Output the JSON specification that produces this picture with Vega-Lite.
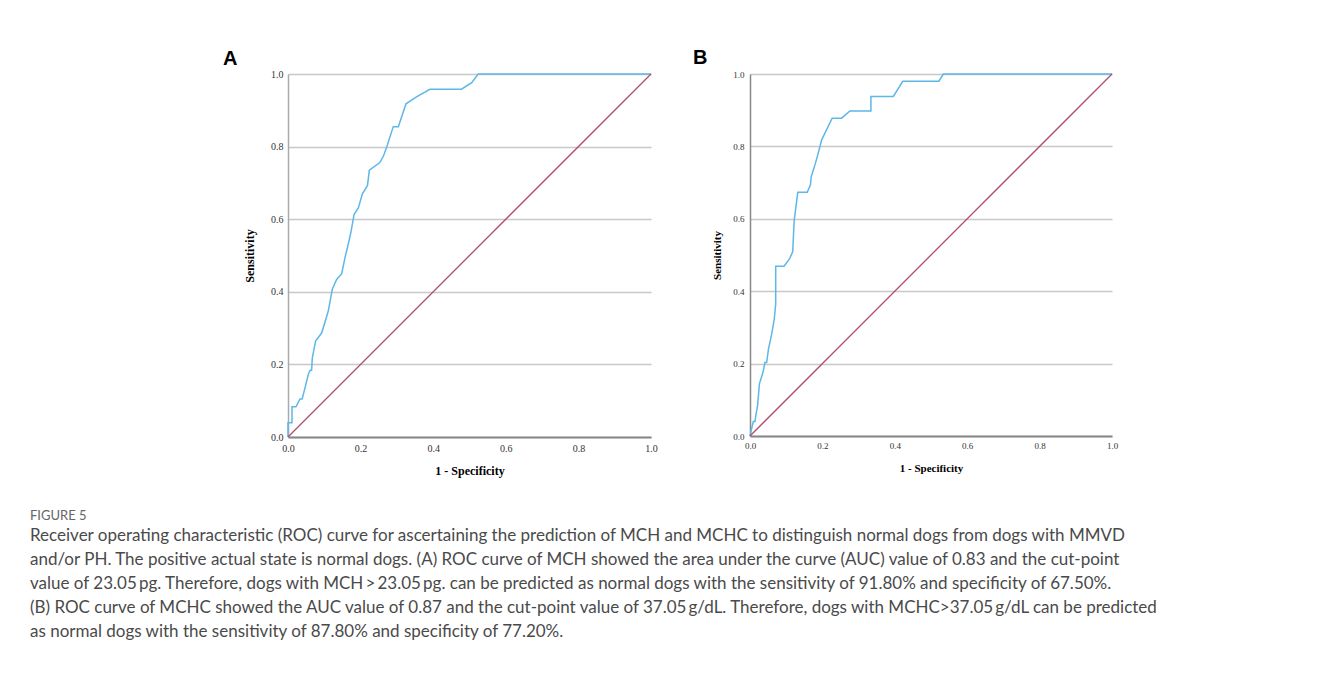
{
  "$schema": "https://vega.github.io/schema/vega-lite/v6.json",
  "background": "white",
  "padding": {"left": 30, "top": 48, "right": 10, "bottom": 10},
  "config": {"view": {"stroke": null}, "font": "Liberation Serif"},
  "datasets": {
    "A": [
      {"i": 0, "fpr": 0.0, "tpr": 0.0},
      {"i": 1, "fpr": 0.0, "tpr": 0.039},
      {"i": 2, "fpr": 0.011, "tpr": 0.039},
      {"i": 3, "fpr": 0.011, "tpr": 0.083},
      {"i": 4, "fpr": 0.022, "tpr": 0.083},
      {"i": 5, "fpr": 0.033, "tpr": 0.105},
      {"i": 6, "fpr": 0.039, "tpr": 0.105},
      {"i": 7, "fpr": 0.047, "tpr": 0.136},
      {"i": 8, "fpr": 0.056, "tpr": 0.173},
      {"i": 9, "fpr": 0.061, "tpr": 0.184},
      {"i": 10, "fpr": 0.065, "tpr": 0.184},
      {"i": 11, "fpr": 0.067, "tpr": 0.218},
      {"i": 12, "fpr": 0.076, "tpr": 0.264},
      {"i": 13, "fpr": 0.093, "tpr": 0.287},
      {"i": 14, "fpr": 0.111, "tpr": 0.347},
      {"i": 15, "fpr": 0.122, "tpr": 0.407},
      {"i": 16, "fpr": 0.134, "tpr": 0.434},
      {"i": 17, "fpr": 0.148, "tpr": 0.45},
      {"i": 18, "fpr": 0.157, "tpr": 0.494},
      {"i": 19, "fpr": 0.168, "tpr": 0.54},
      {"i": 20, "fpr": 0.174, "tpr": 0.567},
      {"i": 21, "fpr": 0.182, "tpr": 0.613},
      {"i": 22, "fpr": 0.194, "tpr": 0.632},
      {"i": 23, "fpr": 0.205, "tpr": 0.67},
      {"i": 24, "fpr": 0.219, "tpr": 0.693},
      {"i": 25, "fpr": 0.224, "tpr": 0.735},
      {"i": 26, "fpr": 0.253, "tpr": 0.756},
      {"i": 27, "fpr": 0.263, "tpr": 0.774},
      {"i": 28, "fpr": 0.272, "tpr": 0.799},
      {"i": 29, "fpr": 0.29, "tpr": 0.855},
      {"i": 30, "fpr": 0.304, "tpr": 0.855},
      {"i": 31, "fpr": 0.325, "tpr": 0.918},
      {"i": 32, "fpr": 0.354, "tpr": 0.937},
      {"i": 33, "fpr": 0.391, "tpr": 0.958},
      {"i": 34, "fpr": 0.478, "tpr": 0.958},
      {"i": 35, "fpr": 0.506, "tpr": 0.976},
      {"i": 36, "fpr": 0.524, "tpr": 1.0},
      {"i": 37, "fpr": 1.0, "tpr": 1.0}
    ],
    "B": [
      {"i": 0, "fpr": 0.0, "tpr": 0.0},
      {"i": 1, "fpr": 0.009, "tpr": 0.04},
      {"i": 2, "fpr": 0.014, "tpr": 0.04},
      {"i": 3, "fpr": 0.016, "tpr": 0.056},
      {"i": 4, "fpr": 0.021, "tpr": 0.084},
      {"i": 5, "fpr": 0.026, "tpr": 0.144},
      {"i": 6, "fpr": 0.037, "tpr": 0.18},
      {"i": 7, "fpr": 0.041, "tpr": 0.203},
      {"i": 8, "fpr": 0.046, "tpr": 0.203},
      {"i": 9, "fpr": 0.051, "tpr": 0.24},
      {"i": 10, "fpr": 0.06, "tpr": 0.282},
      {"i": 11, "fpr": 0.067, "tpr": 0.323},
      {"i": 12, "fpr": 0.071, "tpr": 0.365},
      {"i": 13, "fpr": 0.071, "tpr": 0.469},
      {"i": 14, "fpr": 0.094, "tpr": 0.469},
      {"i": 15, "fpr": 0.109, "tpr": 0.489},
      {"i": 16, "fpr": 0.118, "tpr": 0.509},
      {"i": 17, "fpr": 0.122, "tpr": 0.595},
      {"i": 18, "fpr": 0.132, "tpr": 0.673},
      {"i": 19, "fpr": 0.158, "tpr": 0.673},
      {"i": 20, "fpr": 0.167, "tpr": 0.694},
      {"i": 21, "fpr": 0.169, "tpr": 0.716},
      {"i": 22, "fpr": 0.18, "tpr": 0.751},
      {"i": 23, "fpr": 0.187, "tpr": 0.776},
      {"i": 24, "fpr": 0.198, "tpr": 0.818},
      {"i": 25, "fpr": 0.227, "tpr": 0.878},
      {"i": 26, "fpr": 0.253, "tpr": 0.878},
      {"i": 27, "fpr": 0.276, "tpr": 0.898},
      {"i": 28, "fpr": 0.334, "tpr": 0.898},
      {"i": 29, "fpr": 0.334, "tpr": 0.938},
      {"i": 30, "fpr": 0.396, "tpr": 0.938},
      {"i": 31, "fpr": 0.422, "tpr": 0.98},
      {"i": 32, "fpr": 0.522, "tpr": 0.98},
      {"i": 33, "fpr": 0.534, "tpr": 1.0},
      {"i": 34, "fpr": 1.0, "tpr": 1.0}
    ],
    "diag": [
      {"i": 0, "fpr": 0.0, "tpr": 0.0},
      {"i": 1, "fpr": 1.0, "tpr": 1.0}
    ]
  },
  "title": {
    "text": "FIGURE 5",
    "subtitle": [
      "Receiver operating characteristic (ROC) curve for ascertaining the prediction of MCH and MCHC to distinguish normal dogs from dogs with MMVD",
      "and/or PH. The positive actual state is normal dogs. (A) ROC curve of MCH showed the area under the curve (AUC) value of 0.83 and the cut-point",
      "value of 23.05\u2009pg. Therefore, dogs with MCH\u2009>\u200923.05\u2009pg. can be predicted as normal dogs with the sensitivity of 91.80% and specificity of 67.50%.",
      "(B) ROC curve of MCHC showed the AUC value of 0.87 and the cut-point value of 37.05\u2009g/dL. Therefore, dogs with MCHC>37.05\u2009g/dL can be predicted",
      "as normal dogs with the sensitivity of 87.80% and specificity of 77.20%."
    ],
    "orient": "bottom",
    "anchor": "start",
    "dx": -193,
    "offset": 34,
    "font": "Lato",
    "fontSize": 13,
    "fontWeight": "normal",
    "color": "#666666",
    "subtitleFont": "Lato",
    "subtitleFontSize": 17,
    "subtitleColor": "#4a4a4a",
    "subtitleLineHeight": 24,
    "subtitlePadding": 5
  },
  "spacing": 35,
  "hconcat": [
    {
      "width": 363,
      "height": 363,
      "title": {"text": "A", "anchor": "start", "frame": "group", "dx": -65, "offset": 0, "font": "Liberation Sans", "fontSize": 20, "fontWeight": "bold", "color": "#000000"},
      "layer": [
        {
          "data": {"name": "A"},
          "mark": {"type": "line", "color": "#5db7e8", "strokeWidth": 1.5},
          "encoding": {
            "x": {"field": "fpr", "type": "quantitative", "scale": {"domain": [0, 1], "nice": false},
              "axis": {"title": "1 - Specificity", "values": [0, 0.2, 0.4, 0.6, 0.8, 1.0], "format": ".1f", "ticks": false, "grid": false,
                "domainColor": "#888888", "domainWidth": 2, "labelFont": "Liberation Serif", "labelFontSize": 10, "labelColor": "#333333",
                "labelPadding": 6, "labelFlush": false, "labelOverlap": false,
                "titleFont": "Liberation Serif", "titleFontSize": 12, "titleFontWeight": "bold", "titleColor": "#000000", "titlePadding": 12}},
            "y": {"field": "tpr", "type": "quantitative", "scale": {"domain": [0, 1], "nice": false},
              "axis": {"title": "Sensitivity", "values": [0, 0.2, 0.4, 0.6, 0.8, 1.0], "format": ".1f", "ticks": false, "grid": true,
                "gridColor": "#c8c8c8", "gridWidth": 1.5, "domainColor": "#aaaaaa", "domainWidth": 1.5,
                "labelFont": "Liberation Serif", "labelFontSize": 10, "labelColor": "#333333", "labelPadding": 5, "labelFlush": false, "labelOverlap": false,
                "titleFont": "Liberation Serif", "titleFontSize": 12, "titleFontWeight": "bold", "titleColor": "#000000", "titlePadding": 14}},
            "order": {"field": "i", "type": "quantitative"}
          }
        },
        {
          "data": {"name": "diag"},
          "mark": {"type": "line", "color": "#b04d6e", "strokeWidth": 1.3},
          "encoding": {
            "x": {"field": "fpr", "type": "quantitative"},
            "y": {"field": "tpr", "type": "quantitative"},
            "order": {"field": "i", "type": "quantitative"}
          }
        }
      ]
    },
    {
      "width": 362,
      "height": 362,
      "title": {"text": "B", "anchor": "start", "frame": "group", "dx": -57, "offset": 2, "font": "Liberation Sans", "fontSize": 20, "fontWeight": "bold", "color": "#000000"},
      "layer": [
        {
          "data": {"name": "B"},
          "mark": {"type": "line", "color": "#5db7e8", "strokeWidth": 1.5},
          "encoding": {
            "x": {"field": "fpr", "type": "quantitative", "scale": {"domain": [0, 1], "nice": false},
              "axis": {"title": "1 - Specificity", "values": [0, 0.2, 0.4, 0.6, 0.8, 1.0], "format": ".1f", "ticks": false, "grid": false,
                "domainColor": "#888888", "domainWidth": 2, "labelFont": "Liberation Serif", "labelFontSize": 9, "labelColor": "#333333",
                "labelPadding": 5, "labelFlush": false, "labelOverlap": false,
                "titleFont": "Liberation Serif", "titleFontSize": 11, "titleFontWeight": "bold", "titleColor": "#000000", "titlePadding": 12}},
            "y": {"field": "tpr", "type": "quantitative", "scale": {"domain": [0, 1], "nice": false},
              "axis": {"title": "Sensitivity", "values": [0, 0.2, 0.4, 0.6, 0.8, 1.0], "format": ".1f", "ticks": false, "grid": true,
                "gridColor": "#c8c8c8", "gridWidth": 1.5, "domainColor": "#888888", "domainWidth": 1.5,
                "labelFont": "Liberation Serif", "labelFontSize": 9, "labelColor": "#333333", "labelPadding": 6, "labelFlush": false, "labelOverlap": false,
                "titleFont": "Liberation Serif", "titleFontSize": 11, "titleFontWeight": "bold", "titleColor": "#000000", "titlePadding": 10}},
            "order": {"field": "i", "type": "quantitative"}
          }
        },
        {
          "data": {"name": "diag"},
          "mark": {"type": "line", "color": "#b04d6e", "strokeWidth": 1.3},
          "encoding": {
            "x": {"field": "fpr", "type": "quantitative"},
            "y": {"field": "tpr", "type": "quantitative"},
            "order": {"field": "i", "type": "quantitative"}
          }
        }
      ]
    }
  ]
}
